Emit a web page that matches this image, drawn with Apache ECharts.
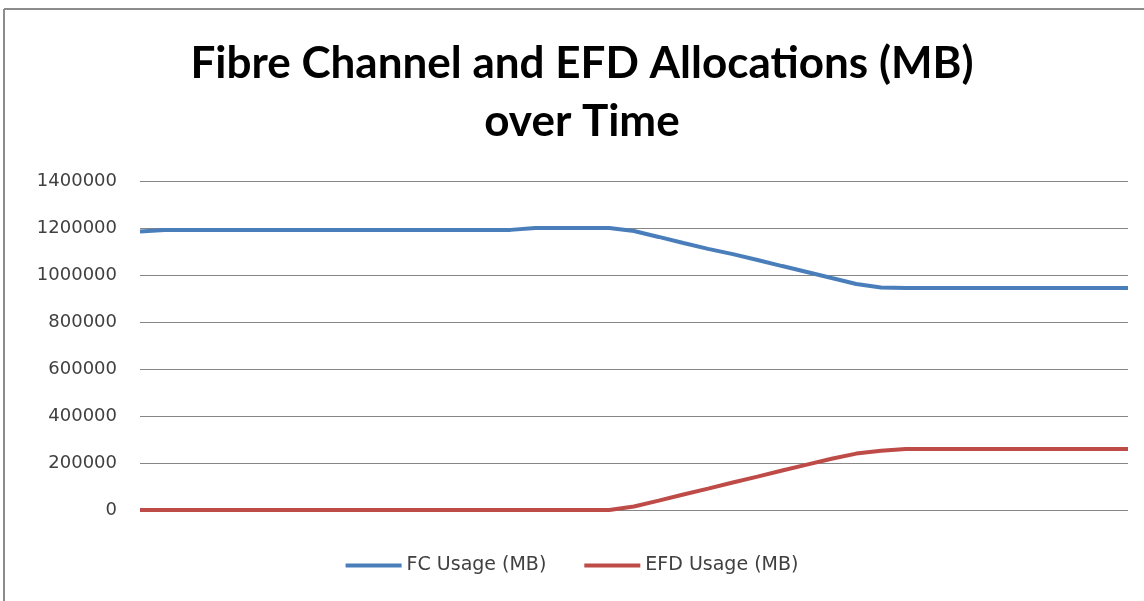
<!DOCTYPE html>
<html>
<head>
<meta charset="utf-8">
<script src="https://cdn.jsdelivr.net/npm/echarts@6/dist/echarts.min.js"></script>
<style>
html,body{margin:0;padding:0;background:#fff;}
#chart{width:1144px;height:601px;}
</style>
</head>
<body>
<div id="chart"></div>
<script>
var titleText = 'Fibre Channel and EFD Allocations (MB)\nover Time';
var categories = [];
for (var k = 1; k <= 41; k++) { categories.push('T' + k); }
var fcUsage = [1185000, 1192000, 1192000, 1192000, 1192000, 1192000, 1192000, 1192000, 1192000, 1192000,
  1192000, 1192000, 1192000, 1192000, 1192000, 1192000, 1200000, 1200000, 1200000, 1200000,
  1187000, 1162000, 1136000, 1111000, 1089000, 1064000, 1038000, 1013000, 987000, 962000,
  947000, 945000, 945000, 945000, 945000, 945000, 945000, 945000, 945000, 945000, 945000];
var efdUsage = [0, 0, 0, 0, 0, 0, 0, 0, 0, 0,
  0, 0, 0, 0, 0, 0, 0, 0, 0, 0,
  15000, 40000, 66000, 91000, 117000, 142000, 168000, 193000, 218000, 240000,
  252000, 260000, 260000, 260000, 260000, 260000, 260000, 260000, 260000, 260000, 260000];
var seriesNames = ['FC Usage (MB)', 'EFD Usage (MB)'];
var yTicks = [0, 200000, 400000, 600000, 800000, 1000000, 1200000, 1400000];

var chart = echarts.init(document.getElementById('chart'));
chart.setOption({
  backgroundColor: '#ffffff',
  animation: false,
  title: {
    text: titleText,
    left: 577,
    top: 30,
    textAlign: 'center',
    textStyle: { fontFamily: 'Lato', fontWeight: 'bold', fontSize: 44, color: '#000000', lineHeight: 58 }
  },
  legend: {
    data: seriesNames,
    bottom: 21,
    left: 'center',
    itemWidth: 56,
    itemHeight: 4,
    itemGap: 38,
    icon: 'rect',
    textStyle: { fontFamily: 'DejaVu Sans', fontSize: 19, color: '#404040' }
  },
  grid: { left: 140, right: 16, top: 181, bottom: 91, containLabel: false },
  xAxis: {
    type: 'category',
    data: categories,
    boundaryGap: false,
    axisLine: { show: false },
    axisTick: { show: false },
    axisLabel: { show: false },
    splitLine: { show: false }
  },
  yAxis: {
    type: 'value',
    min: yTicks[0],
    max: yTicks[yTicks.length - 1],
    interval: 200000,
    axisLine: { show: false },
    axisTick: { show: false },
    axisLabel: { fontFamily: 'DejaVu Sans', fontSize: 18, color: '#404040', margin: 23,
      formatter: function (v) { return String(v); } },
    splitLine: { lineStyle: { color: '#868686', width: 1 } }
  },
  series: [
    { name: seriesNames[0], type: 'line', data: fcUsage, showSymbol: false, color: '#4a7ebb',
      lineStyle: { width: 4, color: '#4a7ebb' } },
    { name: seriesNames[1], type: 'line', data: efdUsage, showSymbol: false, color: '#be4b48',
      lineStyle: { width: 4, color: '#be4b48' } }
  ],
  graphic: [
    { type: 'line', shape: { x1: 4, y1: 9, x2: 1144, y2: 9 }, style: { stroke: '#8c8c8c', lineWidth: 2 } },
    { type: 'line', shape: { x1: 4, y1: 9, x2: 4, y2: 601 }, style: { stroke: '#8c8c8c', lineWidth: 2 } }
  ]
});
</script>
</body>
</html>
